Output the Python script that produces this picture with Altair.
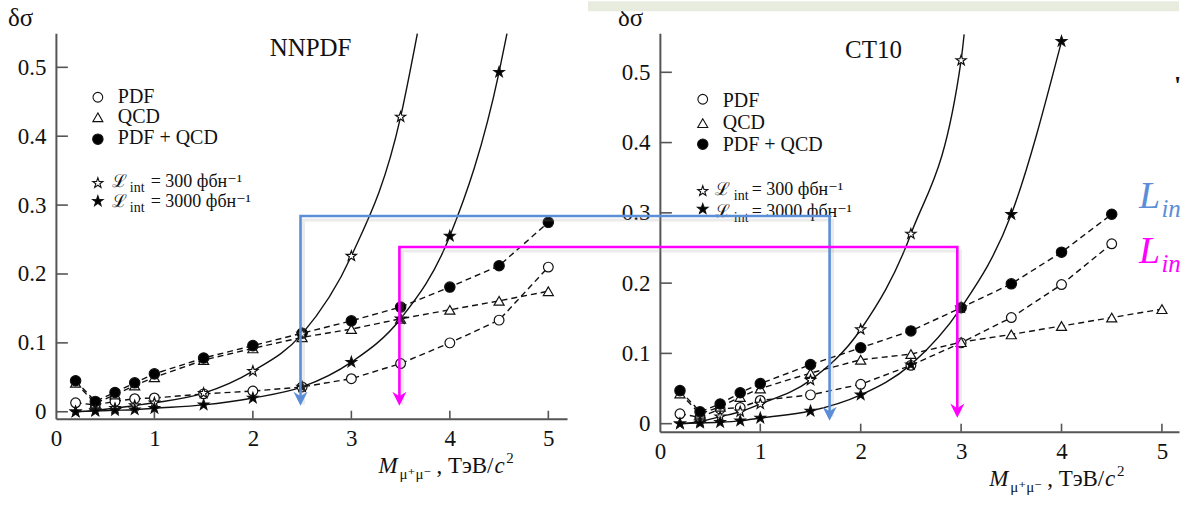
import altair as alt
import pandas as pd

# ------------------------------------------------------------------ data
mass = [0.2, 0.4, 0.6, 0.8, 1.0, 1.5, 2.0, 2.5, 3.0, 3.5, 4.0, 4.5, 5.0]
series_names = ["PDF", "QCD", "PDF + QCD", "L300", "L3000"]

# NNPDF panel
nn_pdf = [0.013, 0.010, 0.015, 0.019, 0.020, 0.026, 0.030, 0.036, 0.048, 0.070, 0.100, 0.133, 0.210]
nn_qcd = [0.042, 0.012, 0.025, 0.038, 0.050, 0.075, 0.092, 0.108, 0.120, 0.135, 0.148, 0.161, 0.175]
nn_both = [0.045, 0.015, 0.028, 0.042, 0.055, 0.078, 0.096, 0.114, 0.132, 0.152, 0.181, 0.212, 0.275]
nn_l300 = [0.000, 0.002, 0.005, 0.009, 0.013, 0.027, 0.059, 0.113, 0.226, 0.428]
nn_l3000 = [0.000, 0.001, 0.002, 0.003, 0.005, 0.010, 0.020, 0.036, 0.072, 0.135, 0.255, 0.493]
nn_exit = {"L300": (3.67, 0.549), "L3000": (4.58, 0.549)}   # where curves leave the frame

# CT10 panel
ct_pdf = [0.014, 0.009, 0.021, 0.023, 0.033, 0.041, 0.056, 0.083, 0.115, 0.151, 0.198, 0.256]
ct_qcd = [0.043, 0.014, 0.024, 0.038, 0.050, 0.072, 0.091, 0.099, 0.116, 0.127, 0.139, 0.151, 0.163]
ct_both = [0.047, 0.017, 0.028, 0.044, 0.057, 0.084, 0.108, 0.132, 0.165, 0.199, 0.244, 0.298]
ct_l300 = [0.000, 0.003, 0.010, 0.017, 0.028, 0.062, 0.134, 0.270, 0.517]
ct_l3000 = [0.000, 0.001, 0.002, 0.004, 0.008, 0.018, 0.041, 0.084, 0.165, 0.298, 0.544]
ct_exit = {"L300": (3.03, 0.554)}

y_ticks = [0, 0.1, 0.2, 0.3, 0.4, 0.5]
x_ticks = [0, 1, 2, 3, 4, 5]
x_minor = [1, 2, 3, 4, 5]

lum300 = "= 300 фбн⁻¹"
lum3000 = "= 3000 фбн⁻¹"

# annotation brackets (in CT10 panel units, extending left over NNPDF panel)
blue_m = [-3.579, -3.579, 1.690, 1.690]
blue_v = [0.033, 0.2955, 0.2955, 0.0156]
blue_tips_m = [-3.579, 1.690]
blue_tips_v = [0.0355, 0.0142]
mag_m = [-2.594, -2.594, 2.962, 2.962]
mag_v = [0.033, 0.2514, 0.2514, 0.0199]
mag_tips_m = [-2.594, 2.962]
mag_tips_v = [0.0355, 0.0185]

# ------------------------------------------------------------------ style
SERIF = "Liberation Serif, Times New Roman, Tinos, DejaVu Serif, serif"
BLUE = "#5b8ed6"
MAGENTA = "#ff00ff"
AXIS_COL = "#555555"
STAR = ("M0,-1L0.235,-0.324L0.951,-0.309L0.380,0.124L0.588,0.809L0,0.4"
        "L-0.588,0.809L-0.380,0.124L-0.951,-0.309L-0.235,-0.324Z")
ARROW = "M-1,-1L0,1L1,-1L0,-0.35Z"

shape_scale = alt.Scale(domain=series_names, range=["circle", "triangle-up", "circle", STAR, STAR])
fill_scale = alt.Scale(domain=series_names, range=["white", "white", "black", "white", "black"])
size_scale = alt.Scale(domain=series_names, range=[95, 120, 105, 260, 250])
leg_size_scale = alt.Scale(domain=series_names, range=[70, 85, 80, 170, 160])


def build_df(vals, exits):
    rows = []
    for name, arr in zip(series_names, vals):
        for m, v in zip(mass, arr):
            rows.append({"series": name, "m": m, "v": v, "marker": True})
    for name, (m, v) in exits.items():
        rows.append({"series": name, "m": m, "v": v, "marker": False})
    return pd.DataFrame(rows)


def texts(items, X, Y, size=21, italic=False, align="left", baseline="alphabetic",
          color="#111111", weight="normal"):
    df = pd.DataFrame(items, columns=["m", "v", "t"])
    return alt.Chart(df).mark_text(
        align=align, baseline=baseline, fontSize=size, font=SERIF,
        fontStyle="italic" if italic else "normal", fontWeight=weight, color=color
    ).encode(x=X, y=Y, text="t:N")


def panel(vals, exits, xmax, ymin, ymax, w, h, title_item, dsig_item, leg, xtitle, extra=None):
    X = alt.X("m:Q", scale=alt.Scale(domain=[0, xmax], nice=False, zero=False, padding=0),
              axis=alt.Axis(values=x_ticks, format="d", title=None, ticks=False, tickSize=0,
                            grid=False, labelFont=SERIF, labelFontSize=23, labelPadding=9,
                            labelFlush=False, labelColor="#111111",
                            domainColor=AXIS_COL, domainWidth=2))
    Y = alt.Y("v:Q", scale=alt.Scale(domain=[ymin, ymax], nice=False, zero=False, padding=0),
              axis=alt.Axis(values=y_ticks, title=None, ticks=False, tickSize=0, grid=False,
                            labelExpr="datum.value == 0 ? '0' : format(datum.value, '.1f')",
                            labelFont=SERIF, labelFontSize=23, labelPadding=10, labelFlush=False,
                            labelColor="#111111", domainColor=AXIS_COL, domainWidth=2))
    px_y = (ymax - ymin) / h
    px_x = xmax / w

    df = build_df(vals, exits)
    base = alt.Chart(df)

    ytick_df = pd.DataFrame({"m": [0.0] * len(y_ticks), "m2": [12 * px_x] * len(y_ticks), "v": y_ticks})
    xtick_df = pd.DataFrame({"m": x_minor, "v": [ymin] * len(x_minor), "v2": [ymin + 8 * px_y] * len(x_minor)})
    yt = alt.Chart(ytick_df).mark_rule(color=AXIS_COL, strokeWidth=1.6).encode(x=X, x2="m2", y=Y)
    xt = alt.Chart(xtick_df).mark_rule(color=AXIS_COL, strokeWidth=1.6).encode(x=X, y=Y, y2="v2")

    dashed = base.transform_filter(
        alt.FieldOneOfPredicate(field="series", oneOf=series_names[:3])
    ).mark_line(color="#111111", strokeWidth=1.4, strokeDash=[6, 4]).encode(x=X, y=Y, detail="series:N")
    solid = base.transform_filter(
        alt.FieldOneOfPredicate(field="series", oneOf=series_names[3:])
    ).mark_line(color="#111111", strokeWidth=1.4, interpolate="monotone").encode(x=X, y=Y, detail="series:N")
    pts = base.transform_filter("datum.marker").mark_point(
        filled=True, stroke="#111111", strokeWidth=1.2, opacity=1
    ).encode(
        x=X, y=Y,
        shape=alt.Shape("series:N", scale=shape_scale, legend=None),
        fill=alt.Fill("series:N", scale=fill_scale, legend=None),
        size=alt.Size("series:O", scale=size_scale, legend=None),
    )

    sym_m, text_m, rows_sym, rows_base, lm, im, em = leg
    leg_df = pd.DataFrame({"series": series_names, "m": [sym_m] * 5, "v": rows_sym})
    leg_pts = alt.Chart(leg_df).mark_point(filled=True, stroke="#111111", strokeWidth=1.1, opacity=1).encode(
        x=X, y=Y,
        shape=alt.Shape("series:N", scale=shape_scale, legend=None),
        fill=alt.Fill("series:N", scale=fill_scale, legend=None),
        size=alt.Size("series:O", scale=leg_size_scale, legend=None),
    )
    leg_txt = texts([(text_m, rows_base[0], "PDF"), (text_m, rows_base[1], "QCD"),
                     (text_m, rows_base[2], "PDF + QCD")], X, Y, size=20)
    leg_lum = texts([(em, rows_base[3], lum300), (em, rows_base[4], lum3000)], X, Y, size=18)
    leg_L = texts([(lm, rows_base[3], "ℒ"), (lm, rows_base[4], "ℒ")], X, Y, size=18)
    sub_dv = 5 * px_y
    leg_int = texts([(im, rows_base[3] - sub_dv, "int"), (im, rows_base[4] - sub_dv, "int")], X, Y, size=14)

    ttl = texts([title_item], X, Y, size=25, align="center")
    dsig = texts([dsig_item], X, Y, size=25)

    (mM, sM, cM, cc, c2, v0) = xtitle
    xt_M = texts([(mM, v0, "M"), (cc, v0, "c")], X, Y, size=23, italic=True)
    xt_sub = texts([(sM, v0 - 6 * px_y, "μ⁺μ⁻")], X, Y, size=15)
    xt_rest = texts([(cM, v0, ", ТэВ/")], X, Y, size=23)
    xt_sq = texts([(c2, v0 + 10 * px_y, "2")], X, Y, size=15)

    layers = [yt, xt, dashed, solid, pts, leg_pts, leg_txt, leg_lum, leg_L, leg_int, ttl, dsig,
              xt_M, xt_sub, xt_rest, xt_sq]
    if extra is not None:
        layers += extra(X, Y, px_x, px_y)
    return alt.layer(*layers).properties(width=w, height=h)


def right_extras(X, Y, px_x, px_y):
    band = alt.Chart(pd.DataFrame({"m": [-0.716], "m2": [5.17], "v": [0.5867], "v2": [0.601]})).mark_rect(
        color="#e8ecdf").encode(x=X, x2="m2", y=Y, y2="v2")
    out = [band]
    for mm, vv, tm, tv, col in [(blue_m, blue_v, blue_tips_m, blue_tips_v, BLUE),
                                (mag_m, mag_v, mag_tips_m, mag_tips_v, MAGENTA)]:
        ldf = pd.DataFrame({"m": mm, "v": vv, "k": list(range(len(mm)))})
        shadow = alt.Chart(ldf).mark_line(color="#9a9a9a", strokeWidth=3, opacity=0.2,
                                          xOffset=3, yOffset=4).encode(x=X, y=Y, order="k:Q")
        line = alt.Chart(ldf).mark_line(color=col, strokeWidth=2.6).encode(x=X, y=Y, order="k:Q")
        tips = alt.Chart(pd.DataFrame({"m": tm, "v": tv})).mark_point(
            shape=ARROW, filled=True, size=200, color=col, opacity=1).encode(x=X, y=Y)
        out += [shadow, line, tips]
    out.append(texts([(4.771, 0.3068, "L")], X, Y, size=38, italic=True, color=BLUE))
    out.append(texts([(4.995, 0.294, "in")], X, Y, size=25, italic=True, color=BLUE))
    out.append(texts([(4.771, 0.2287, "L")], X, Y, size=38, italic=True, color=MAGENTA))
    out.append(texts([(4.995, 0.2159, "in")], X, Y, size=25, italic=True, color=MAGENTA))
    out.append(texts([(5.12, 0.4986, "'")], X, Y, size=26, weight="bold", baseline="top"))
    return out


left = panel(
    [nn_pdf, nn_qcd, nn_both, nn_l300, nn_l3000], nn_exit,
    xmax=5.19, ymin=-0.0101, ymax=0.5493, w=512, h=386,
    title_item=(2.586, 0.5159, "NNPDF"),
    dsig_item=(-0.487, 0.5594, "δσ"),
    leg=(0.426, 0.629, [0.4565, 0.4275, 0.3957, 0.3319, 0.3058],
         [0.4478, 0.4188, 0.3884, 0.3261, 0.2972], 0.568, 0.750, 0.963),
    xtitle=(3.276, 3.489, 3.864, 4.453, 4.574, -0.0884),
)

right = panel(
    [ct_pdf, ct_qcd, ct_both, ct_l300, ct_l3000], ct_exit,
    xmax=5.17, ymin=-0.0114, ymax=0.5554, w=520, h=399,
    title_item=(2.127, 0.5199, "CT10"),
    dsig_item=(-0.417, 0.5653, "δσ"),
    leg=(0.427, 0.626, [0.4616, 0.4276, 0.3977, 0.331, 0.3054],
         [0.4503, 0.419, 0.3878, 0.3253, 0.2941], 0.547, 0.736, 0.915),
    xtitle=(3.28, 3.489, 3.857, 4.433, 4.553, -0.0881),
    extra=right_extras,
)

chart = alt.hconcat(left, right, spacing=93, bounds="flush").properties(
    padding={"left": 7, "top": 0, "right": 0, "bottom": 0},
    background="white",
).configure_view(stroke=None)

chart.save("out.html", embed_options={"renderer": "svg", "actions": False})
